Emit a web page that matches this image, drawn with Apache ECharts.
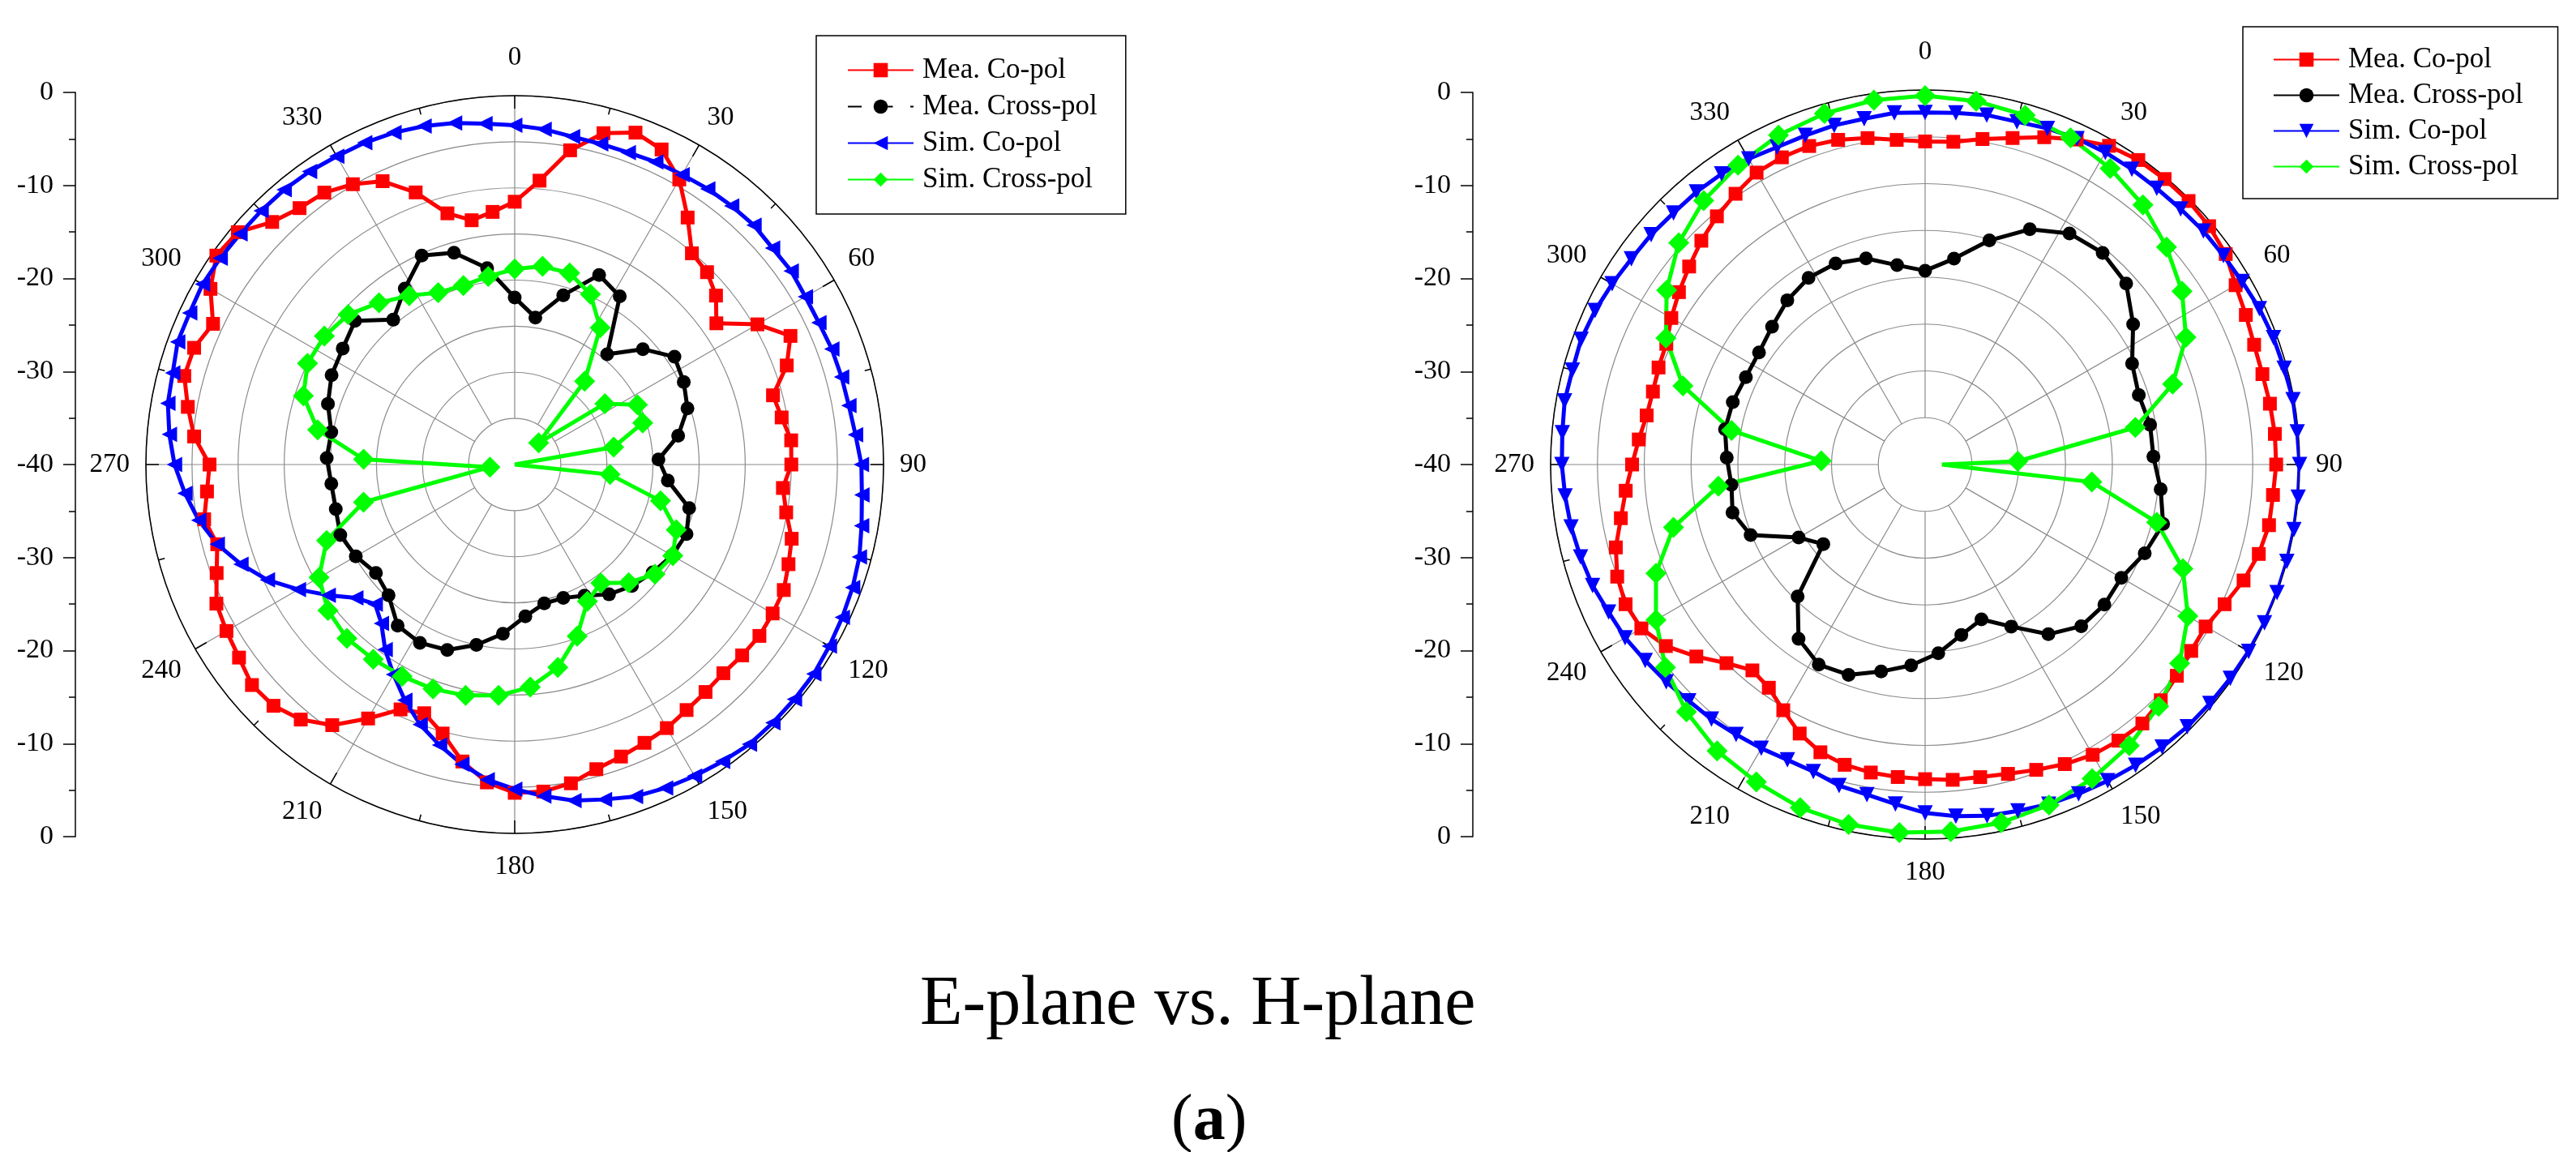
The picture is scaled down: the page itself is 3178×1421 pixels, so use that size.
<!DOCTYPE html>
<html>
<head>
<meta charset="utf-8">
<script src="https://cdn.jsdelivr.net/npm/echarts@6/dist/echarts.min.js"></script>
<style>
html,body{margin:0;padding:0;background:#fff;}
#chart{width:3178px;height:1421px;}
</style>
</head>
<body>
<div id="chart"></div>
<script>
// ---------- tick labels ----------
const ANGLE_LABELS = ['0','30','60','90','120','150','180','210','240','270','300','330'];
const RADIAL_LABELS = ['0','-10','-20','-30','-40','-30','-20','-10','0'];

// ---------- angles (degrees) ----------
const ANG5 = [0,5,10,15,20,25,30,35,40,45,50,55,60,65,70,75,80,85,90,95,100,105,110,115,120,125,130,135,140,145,150,155,160,165,170,175,180,185,190,195,200,205,210,215,220,225,230,235,240,245,250,255,260,265,270,275,280,285,290,295,300,305,310,315,320,325,330,335,340,345,350,355];
const ANG8 = [0,8,16,24,32,40,48,56,64,72,80,88,96,104,112,120,128,136,144,152,160,168,176,184,192,200,208,216,224,232,240,248,256,264,272,280,288,296,304,312,320,328,336,344,352];
const ANG8_H_SIM_CROSS = [0,8,16,24,32,40,48,56,64,72,80,88,90,96,104,112,120,128,136,144,152,160,168,176,184,192,200,208,216,224,232,240,248,256,264,272,280,288,296,304,312,320,328,336,344,352];

// ---------- E-plane (left), dB ----------
const E_MEA_CO = [-11.5,-9.1,-5.4,-2.8,-1.7,-2.3,-4.3,-7.3,-10.1,-10.5,-11.5,-13.3,-9.6,-7.0,-8.6,-11.0,-10.6,-9.9,-10.0,-10.8,-10.1,-8.9,-8.4,-7.8,-7.7,-7.6,-7.8,-8.0,-7.8,-7.5,-7.0,-6.7,-6.3,-5.8,-4.9,-4.4,-4.4,-5.4,-7.3,-9.8,-11.3,-10.7,-8.2,-5.5,-3.9,-3.0,-2.8,-3.5,-3.9,-4.3,-5.6,-6.6,-5.8,-6.5,-6.9,-5.1,-4.0,-2.9,-3.0,-3.9,-1.9,-0.5,-0.8,-2.8,-3.7,-4.0,-4.9,-6.1,-8.6,-11.8,-13.1,-12.5];
const E_MEA_CROSS = [-21.9,-23.9,-20.9,-17.5,-18.5,-24.4,-21.3,-19.1,-19.6,-20.3,-22.0,-24.4,-23.3,-20.5,-19.9,-20.3,-21.0,-21.7,-22.6,-23.9,-24.6,-24.6,-23.5,-21.6,-20.0,-18.6,-18.1,-18.4,-20.3,-20.9,-20.1,-19.6,-20.0,-20.0,-19.6,-19.8,-18.7,-17.9,-17.5,-16.7,-19.5,-17.5,-15.2,-16.1,-18.5];
const E_SIM_CO = [-3.2,-3.5,-3.9,-4.0,-4.0,-3.8,-3.7,-3.5,-3.4,-3.3,-3.5,-3.4,-3.6,-3.6,-3.4,-3.3,-3.2,-2.9,-2.4,-2.2,-1.8,-1.3,-1.0,-0.8,-0.6,-0.4,-0.4,-0.4,-0.4,-0.7,-1.0,-1.3,-1.7,-2.4,-3.0,-3.9,-4.8,-5.7,-7.0,-8.5,-10.0,-11.8,-13.7,-15.5,-17.5,-18.6,-17.5,-15.3,-12.9,-10.4,-8.4,-6.6,-5.2,-4.1,-3.1,-2.4,-1.8,-1.6,-1.1,-1.1,-0.9,-1.0,-1.1,-1.1,-1.1,-1.2,-1.4,-1.5,-1.7,-2.0,-2.4,-2.9];
const E_SIM_CROSS = [-18.8,-18.3,-18.4,-19.8,-22.5,-28.2,-36.5,-28.2,-25.2,-25.4,-29.1,-40,-29.6,-23.7,-21.1,-20.2,-20.7,-22.2,-24.1,-23.2,-20.2,-17.5,-15.8,-14.9,-14.4,-14.1,-14.0,-13.9,-13.8,-14.3,-15.5,-18.0,-23.1,-37.3,-23.6,-18.3,-15.9,-15.0,-15.1,-15.7,-17.1,-18.4,-19.6,-19.8,-19.4];
const E_SIM_CROSS_NOMARK = [88];

// ---------- H-plane (right), dB ----------
const H_MEA_CO = [-5.5,-5.4,-4.7,-3.9,-2.8,-1.7,-0.7,-0.3,-0.2,-0.2,-0.4,-0.8,-1.7,-2.2,-2.6,-2.7,-2.6,-2.5,-2.5,-2.7,-2.7,-3.1,-3.8,-4.7,-5.4,-5.3,-4.9,-4.4,-3.9,-4.0,-4.2,-4.7,-5.3,-5.8,-6.1,-6.2,-6.4,-6.5,-6.6,-6.8,-7.3,-8.3,-9.7,-10.9,-11.3,-10.0,-8.1,-6.2,-5.0,-4.7,-5.0,-5.8,-7.0,-7.9,-8.7,-9.3,-9.8,-9.9,-9.7,-9.5,-8.7,-7.9,-7.1,-6.2,-5.4,-4.7,-4.0,-3.8,-3.8,-4.1,-4.6,-5.2];
const H_MEA_CROSS = [-19.3,-17.8,-15.1,-12.5,-10.9,-10.5,-11.1,-13.2,-15.4,-16.0,-15.6,-15.6,-14.7,-13.8,-14.7,-15.8,-15.7,-16.0,-17.6,-20.4,-22.4,-21.4,-19.8,-18.5,-17.4,-16.1,-15.8,-17.0,-20.4,-26.2,-24.4,-19.9,-18.8,-19.2,-18.8,-18.3,-18.4,-18.7,-18.6,-18.0,-17.1,-16.5,-16.5,-17.1,-18.5];
const H_SIM_CO = [-2.4,-2.3,-2.1,-2.1,-1.8,-1.6,-1.5,-1.5,-1.5,-1.4,-1.2,-1.1,-0.9,-0.6,-0.4,-0.3,-0.1,-0.1,0,0,0,0,0,0,-0.1,-0.2,-0.3,-0.4,-0.6,-0.8,-1.0,-1.2,-1.4,-1.7,-1.9,-2.3,-2.8,-3.6,-4.2,-4.5,-5.1,-5.2,-5.0,-4.8,-4.5,-4.3,-3.9,-3.5,-3.0,-2.7,-2.2,-1.9,-1.6,-1.4,-1.2,-1.1,-0.9,-1.0,-0.9,-1.1,-1.4,-1.7,-1.8,-2.0,-2.0,-2.1,-2.3,-2.6,-2.6,-2.5,-2.5,-2.3];
const H_SIM_CROSS = [-0.6,-0.8,-1.2,-1.8,-2.7,-3.8,-5.3,-6.9,-9.0,-12.2,-17.2,-30.1,-38.2,-22.1,-14.5,-10.3,-7.6,-5.5,-4.1,-2.9,-2.0,-1.3,-0.9,-0.7,-0.6,-0.7,-1.0,-1.6,-2.2,-3.3,-4.8,-6.8,-9.0,-12.3,-17.8,-28.9,-19.0,-12.8,-9.2,-6.7,-4.6,-3.2,-2.3,-1.5,-1.0,-0.7];
const H_SIM_CROSS_NOMARK = [90];

// ---------- series names ----------
const NAMES = ['Mea. Co-pol','Mea. Cross-pol','Sim. Co-pol','Sim. Cross-pol'];

const FONT = "'Liberation Serif','Times New Roman',serif";

function polarData(values, angles, noMark) {
  const d = values.map(function (v, i) {
    const item = { value: [v, angles[i]] };
    if (noMark && noMark.indexOf(angles[i]) >= 0) item.symbol = 'none';
    return item;
  });
  // close the loop back to the first sample
  d.push({ value: [values[0], 360], symbol: 'none' });
  return d;
}

function lineSeries(name, polarIndex, color, symbol, size, rotate, values, angles, noMark) {
  return {
    type: 'line', name: name, coordinateSystem: 'polar', polarIndex: polarIndex,
    data: polarData(values, angles, noMark),
    symbol: symbol, symbolSize: size, symbolRotate: rotate,
    showSymbol: true, showAllSymbol: true, smooth: false, clip: false,
    lineStyle: { color: color, width: 5 },
    itemStyle: { color: color, borderWidth: 0 },
    emphasis: { disabled: true },
    z: 3
  };
}

function dataAngleAxis(polarIndex) {
  return {
    polarIndex: polarIndex, type: 'value', min: 0, max: 360, interval: 30,
    startAngle: 90, clockwise: true, z: 1,
    axisLine: { show: true, lineStyle: { color: '#000', width: 1.5 } },
    axisTick: { show: true, inside: true, length: 16, lineStyle: { color: '#000', width: 1.5 } },
    minorTick: { show: true, splitNumber: 2, length: 8, lineStyle: { color: '#000', width: 1.5 } },
    splitLine: { show: false },
    axisLabel: {
      show: true, margin: 20, fontFamily: FONT, fontSize: 33, color: '#000',
      formatter: function (v) {
        if (v >= 360) return '';
        const t = ANGLE_LABELS[Math.round(v / 30)];
        if (v === 0) return '{up|' + t + '}';
        if (v === 180) return '{dn|' + t + '}';
        return t;
      },
      rich: {
        up: { fontFamily: FONT, fontSize: 33, color: '#000', padding: [0, 0, 10, 0] },
        dn: { fontFamily: FONT, fontSize: 33, color: '#000', padding: [5, 0, 0, 0] }
      }
    }
  };
}
function spokeAngleAxis(polarIndex) {
  return {
    polarIndex: polarIndex, type: 'value', min: 0, max: 360, interval: 30,
    startAngle: 90, clockwise: true, z: 0,
    axisLine: { show: false }, axisTick: { show: false }, axisLabel: { show: false },
    splitLine: { show: true, lineStyle: { color: '#8a8a8a', width: 1.2 } }
  };
}
function dataRadiusAxis(polarIndex) {
  return {
    polarIndex: polarIndex, type: 'value', min: -40, max: 0, interval: 5, z: 0,
    axisLine: { show: false }, axisTick: { show: false }, axisLabel: { show: false },
    splitLine: { show: true, lineStyle: { color: '#8a8a8a', width: 1.2 } }
  };
}
function spokeRadiusAxis(polarIndex) {
  return {
    polarIndex: polarIndex, type: 'value', min: 0, max: 1,
    axisLine: { show: false }, axisTick: { show: false }, axisLabel: { show: false },
    splitLine: { show: false }
  };
}
function radialY(gridIndex) {
  return {
    gridIndex: gridIndex, type: 'value', min: -40, max: 40, interval: 10, position: 'left',
    axisLine: { show: true, lineStyle: { color: '#000', width: 1.5 } },
    axisTick: { show: true, length: 15, lineStyle: { color: '#000', width: 1.5 } },
    minorTick: { show: true, splitNumber: 2, length: 8, lineStyle: { color: '#000', width: 1.5 } },
    splitLine: { show: false },
    axisLabel: {
      margin: 27, fontFamily: FONT, fontSize: 34, color: '#000',
      formatter: function (v) { return RADIAL_LABELS[Math.round((v + 40) / 10)]; }
    }
  };
}
function legendBox(names, left, top, gap, padding) {
  return {
    orient: 'vertical', left: left, top: top, itemGap: gap, padding: padding,
    itemWidth: 81, itemHeight: 22,
    borderColor: '#000', borderWidth: 1.5, backgroundColor: '#fff',
    selectedMode: false,
    textStyle: { fontFamily: FONT, fontSize: 35, color: '#000', lineHeight: 41, padding: [0, 0, 0, 6] },
    data: names
  };
}

const RL = 455, RR = 462;
const LEFT_NAMES = NAMES.slice();
const RIGHT_NAMES = NAMES.map(function (n) { return n + ' '; });

const option = {
  animation: false,
  backgroundColor: '#fff',
  title: [
    { text: 'E-plane vs. H-plane', left: 1135, top: 1197, padding: 0,
      textStyle: { fontFamily: FONT, fontSize: 86, fontWeight: 'normal', color: '#000' } },
    { text: '{n|(}{b|a}{n|)}', left: 1445, top: 1344, padding: 0,
      textStyle: { fontFamily: FONT, fontSize: 80, fontWeight: 'normal', color: '#000',
        rich: {
          n: { fontFamily: FONT, fontSize: 80, fontWeight: 'normal', color: '#000' },
          b: { fontFamily: FONT, fontSize: 80, fontWeight: 'bold', color: '#000' } } } }
  ],
  legend: [
    legendBox([LEFT_NAMES[0], { name: LEFT_NAMES[1], lineStyle: { type: [17, 21.5] } }, LEFT_NAMES[2], LEFT_NAMES[3]],
              1007, 44, 4, [22, 35, 22, 38]),
    legendBox(RIGHT_NAMES, 2767, 33, 3, [20, 34, 19, 37])
  ],
  polar: [
    { center: [635, 573], radius: RL },
    { center: [635, 573], radius: [RL / 8, RL] },
    { center: [2375, 573], radius: RR },
    { center: [2375, 573], radius: [RR / 8, RR] }
  ],
  angleAxis: [dataAngleAxis(0), spokeAngleAxis(1), dataAngleAxis(2), spokeAngleAxis(3)],
  radiusAxis: [dataRadiusAxis(0), spokeRadiusAxis(1), dataRadiusAxis(2), spokeRadiusAxis(3)],
  grid: [
    { left: 93, top: 114, width: 10, height: 918 },
    { left: 1817, top: 114, width: 10, height: 918 }
  ],
  xAxis: [
    { gridIndex: 0, type: 'value', show: false },
    { gridIndex: 1, type: 'value', show: false }
  ],
  yAxis: [radialY(0), radialY(1)],
  series: [
    lineSeries(LEFT_NAMES[0], 0, '#ff0000', 'rect', 17, 0, E_MEA_CO, ANG5),
    lineSeries(LEFT_NAMES[1], 0, '#000000', 'circle', 17, 0, E_MEA_CROSS, ANG8),
    lineSeries(LEFT_NAMES[2], 0, '#0000ff', 'triangle', 19, 90, E_SIM_CO, ANG5),
    lineSeries(LEFT_NAMES[3], 0, '#00ff00', 'diamond', 26, 0, E_SIM_CROSS, ANG8, E_SIM_CROSS_NOMARK),
    lineSeries(RIGHT_NAMES[0], 2, '#ff0000', 'rect', 17, 0, H_MEA_CO, ANG5),
    lineSeries(RIGHT_NAMES[1], 2, '#000000', 'circle', 17, 0, H_MEA_CROSS, ANG8),
    lineSeries(RIGHT_NAMES[2], 2, '#0000ff', 'triangle', 19, 180, H_SIM_CO, ANG5),
    lineSeries(RIGHT_NAMES[3], 2, '#00ff00', 'diamond', 26, 0, H_SIM_CROSS, ANG8_H_SIM_CROSS, H_SIM_CROSS_NOMARK)
  ]
};

const chart = echarts.init(document.getElementById('chart'), null, { renderer: 'canvas', width: 3178, height: 1421 });
chart.setOption(option);
</script>
</body>
</html>
